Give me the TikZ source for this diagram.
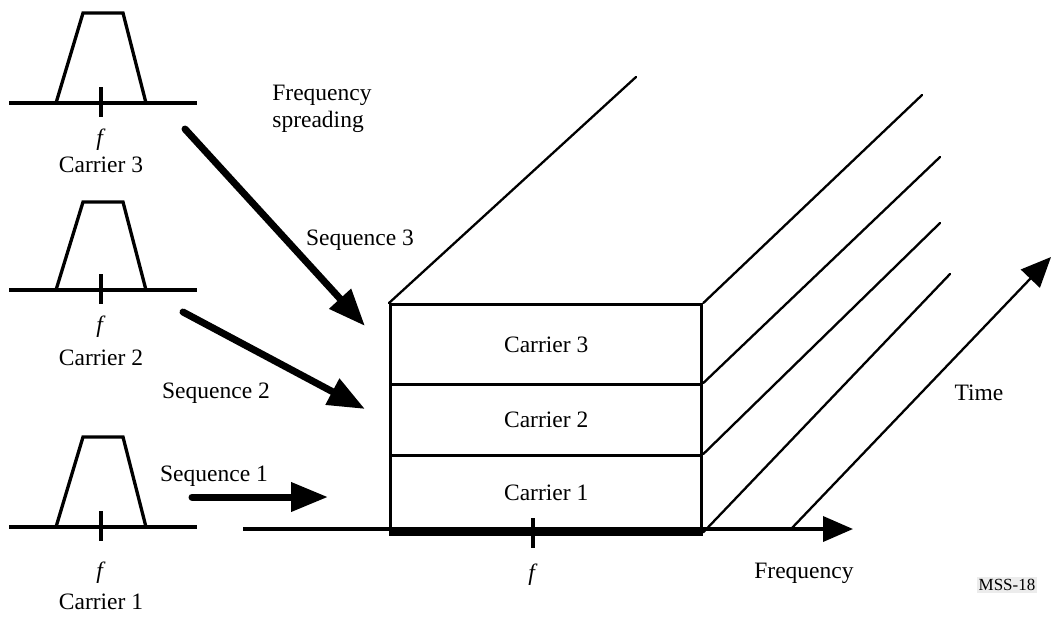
\documentclass[tikz,border=0pt]{standalone}
\usepackage{fontspec}
\setmainfont{Liberation Serif}
\usetikzlibrary{arrows.meta}
\begin{document}
\begin{tikzpicture}[x=0.5pt,y=-0.5pt,
  lbl/.style={inner sep=0pt, font=\fontsize{11.75}{13.5}\selectfont},
  spec/.style={line width=1.65pt, line join=miter},
  diag/.style={line width=1.15pt, line cap=round},
  bigarrow/.style={line width=3.5pt, line cap=round, -{Triangle[length=18.5pt,width=14pt]}},
  axisarrow/.style={line width=1.85pt, -{Triangle[length=15pt,width=12.5pt]}},
  rowbox/.style={draw, line width=1.65pt, inner sep=0pt, anchor=north west,
    minimum width=155.5pt, font=\fontsize{11.75}{13.5}\selectfont}]
\useasboundingbox (0,0) rectangle (1053,617);

% carrier spectra
\foreach \b/\t/\fy/\ly/\n in {103/13/140/165/3, 290/202/327/358/2, 527/437/573/602/1}{
  \draw[spec] (9,\b) -- (197,\b);
  \draw[spec] (56,\b) -- (83,\t) -- (123,\t) -- (146,\b);
  \draw[spec] (101,\b-16) -- (101,\b+14);
  \node[lbl] (f\n) at (101,\fy) {\textit{f}};
  \node[lbl] (c\n) at (101,\ly) {Carrier \n};
}

% stacked box
\node[rowbox, minimum height=40pt] (r3) at (389,303) {Carrier 3};
\node[rowbox, minimum height=35.5pt] (r2) at (389,383) {Carrier 2};
\node[rowbox, minimum height=37.5pt] (r1) at (389,454) {Carrier 1};

% frequency axis
\coordinate (ax0) at (243,529);
\coordinate (ax1) at (853,529);
\draw[axisarrow] (ax0) -- (ax1);
\draw[line width=3.5pt] (r1.south west) -- (r1.south east);
\coordinate (tk0) at (533,518);
\coordinate (tk1) at (533,548);
\draw[spec] (tk0) -- (tk1);
\node[lbl] (fax) at (533,575) {\textit{f}};
\node[lbl] (freq) at (804,573) {Frequency};

% diagonals
\coordinate (d0) at (636,77);
\coordinate (d1) at (922,95);
\coordinate (d2) at (940,157);
\coordinate (d3) at (940,223);
\coordinate (d4) at (950,274);
\draw[diag] (r3.north west) -- (d0);
\draw[diag] (r3.north east) -- (d1);
\draw[diag] (r2.north east) -- (d2);
\draw[diag] (r1.north east) -- (d3);
\draw[diag] (r1.south east) -- (d4);

% time axis
\coordinate (t0) at (791,529);
\coordinate (t1) at (1051,257);
\draw[line width=1.15pt, -{Triangle[length=15pt,width=13pt]}] (t0) -- (t1);
\node[lbl] (time) at (979,393) {Time};

% sequence arrows
\coordinate (s3a) at (185,129);
\coordinate (s3b) at (365,326);
\coordinate (s2a) at (183,312);
\coordinate (s2b) at (365,409);
\coordinate (s1a) at (192,497);
\coordinate (s1b) at (328,497);
\draw[bigarrow] (s3a) -- (s3b);
\draw[bigarrow] (s2a) -- (s2b);
\draw[bigarrow] (s1a) -- (s1b);
\node[lbl] (seq3) at (360,240) {Sequence 3};
\node[lbl] (seq2) at (216,393) {Sequence 2};
\node[lbl] (seq1) at (214,476) {Sequence 1};
\node[lbl, anchor=west, align=left] (spread) at (272,109) {Frequency\\spreading};

\node[fill=gray!15, inner sep=1pt, font=\fontsize{8.5}{10}\selectfont] (mss) at (1007,585) {MSS-18};
\end{tikzpicture}
\end{document}
